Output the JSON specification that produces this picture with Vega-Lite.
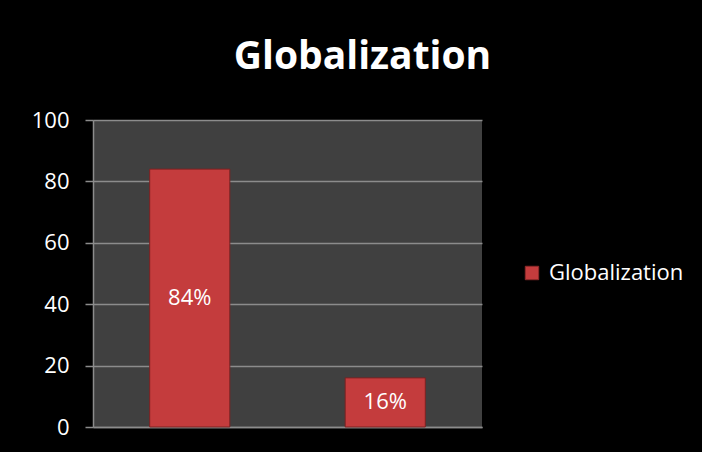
{
  "$schema": "https://vega.github.io/schema/vega-lite/v6.json",
  "width": 389,
  "height": 307,
  "autosize": {"type": "none"},
  "padding": {"left": 93, "top": 120, "right": 220, "bottom": 25},
  "background": "#000000",
  "config": {
    "view": {"fill": "#404040", "stroke": null},
    "font": "Open Sans"
  },
  "title": {
    "text": "Globalization",
    "font": "Open Sans",
    "fontSize": 39,
    "fontWeight": "bold",
    "color": "#ffffff",
    "anchor": "middle",
    "dx": 75,
    "offset": 32
  },
  "data": {
    "values": [
      {"category": "A", "value": 84, "label": "84%", "series": "Globalization"},
      {"category": "B", "value": 16, "label": "16%", "series": "Globalization"}
    ]
  },
  "encoding": {
    "x": {
      "field": "category",
      "type": "nominal",
      "scale": {"paddingInner": 0.59, "paddingOuter": 0.29},
      "axis": {"labels": false, "ticks": false, "title": null, "domainColor": "#8c8c8c", "domainWidth": 1.5}
    }
  },
  "layer": [
    {
      "mark": {"type": "bar", "stroke": "#7a2222", "strokeWidth": 1},
      "encoding": {
        "y": {
          "field": "value",
          "type": "quantitative",
          "scale": {"domain": [0, 100]},
          "axis": {
            "values": [0, 20, 40, 60, 80, 100],
            "title": null,
            "grid": true,
            "gridColor": "#8c8c8c",
            "gridWidth": 1.5,
            "domainColor": "#8c8c8c",
            "domainWidth": 1.5,
            "tickColor": "#8c8c8c",
            "tickSize": 8,
            "tickWidth": 1.5,
            "labelColor": "#ffffff",
            "labelFont": "Open Sans",
            "labelFontSize": 22,
            "labelPadding": 16
          }
        },
        "color": {
          "field": "series",
          "type": "nominal",
          "scale": {"range": ["#c43c3d"]},
          "legend": {
            "title": null,
            "orient": "none",
            "legendX": 428,
            "legendY": 142,
            "symbolType": "square",
            "symbolSize": 180,
            "symbolStrokeColor": "#8e2a2a",
            "symbolStrokeWidth": 1,
            "labelColor": "#ffffff",
            "labelFont": "Open Sans",
            "labelFontSize": 22,
            "labelOffset": 6
          }
        }
      }
    },
    {
      "mark": {"type": "text", "color": "#ffffff", "fontSize": 22, "font": "Open Sans", "baseline": "middle", "align": "center"},
      "encoding": {
        "y": {"field": "value", "type": "quantitative", "scale": {"domain": [0, 200]}, "axis": null},
        "text": {"field": "label"}
      }
    }
  ],
  "resolve": {"scale": {"y": "independent"}}
}
